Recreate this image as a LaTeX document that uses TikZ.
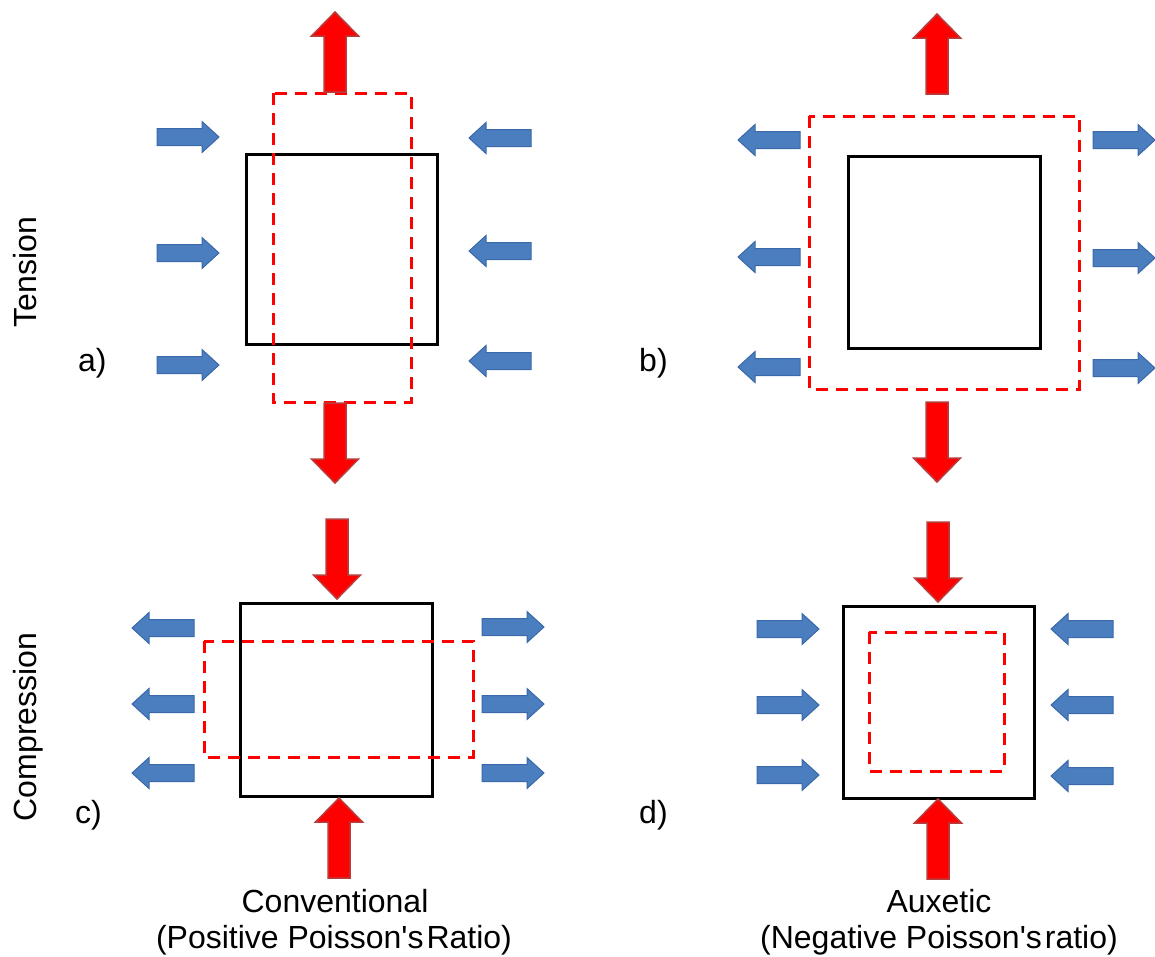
\documentclass[tikz,border=0pt]{standalone}
\usepackage{fontspec}
\setmainfont{Liberation Sans}
\definecolor{arrblue}{RGB}{74,126,190}
\definecolor{arrblueedge}{RGB}{58,104,168}
\definecolor{arrrededge}{RGB}{185,60,60}
\tikzset{
  txt/.style={font=\fontsize{32}{38}\selectfont, inner sep=0pt},
  sq/.style={draw=black, line width=3pt},
  dsq/.style={draw=red, line width=3pt, dash pattern=on 12pt off 8pt},
  blue arr/.style={fill=arrblue, draw=arrblueedge, line width=1pt, line join=miter},
  red arr/.style={fill=red, draw=arrrededge, line width=1.5pt, line join=miter},
  pics/bluearrow/.style={code={\path[blue arr] (0,-8.5) -- (45,-8.5) -- (45,-15.5) -- (62,0) -- (45,15.5) -- (45,8.5) -- (0,8.5) -- cycle;}},
  pics/redarrow/.style={code={\path[red arr] (0,-11) -- (56,-11) -- (56,-23.5) -- (80,0) -- (56,23.5) -- (56,11) -- (0,11) -- cycle;}}
}
\begin{document}
\begin{tikzpicture}[x=1pt,y=-1pt]
\useasboundingbox (0,0) rectangle (1155,956);

% ---------- panel a ----------
\draw[sq] (246,154) rectangle (437,344);
\draw[dsq] (273,93) rectangle (411,402);
\pic[rotate=90] (aup) at (335,92) {redarrow};
\pic[rotate=270] (adn) at (335,403) {redarrow};
\foreach \y [count=\i] in {137,253,365} \pic (al\i) at (157,\y) {bluearrow};
\foreach \y [count=\i] in {138,251,361} \pic[rotate=180] (ar\i) at (531,\y) {bluearrow};

% ---------- panel b ----------
\draw[sq] (848,156) rectangle (1040,348);
\draw[dsq] (809,116) rectangle (1079,389);
\pic[rotate=90] (bup) at (937,94) {redarrow};
\pic[rotate=270] (bdn) at (937,402) {redarrow};
\foreach \y [count=\i] in {140,257,367} \pic[rotate=180] (bl\i) at (800,\y) {bluearrow};
\foreach \y [count=\i] in {140,258,368} \pic (br\i) at (1093,\y) {bluearrow};

% ---------- panel c ----------
\draw[sq] (240,603) rectangle (432,796);
\draw[dsq] (204,641) rectangle (473,757);
\pic[rotate=270] (cdn) at (337,519) {redarrow};
\pic[rotate=90] (cup) at (339,878) {redarrow};
\foreach \y [count=\i] in {628,704,773} \pic[rotate=180] (cl\i) at (194,\y) {bluearrow};
\foreach \y [count=\i] in {627,704,773} \pic (cr\i) at (482,\y) {bluearrow};

% ---------- panel d ----------
\draw[sq] (843,606) rectangle (1034,798);
\draw[dsq] (869,632) rectangle (1004,771);
\pic[rotate=270] (ddn) at (938,522) {redarrow};
\pic[rotate=90] (dup) at (938,879) {redarrow};
\foreach \y [count=\i] in {629,705,775} \pic (dl\i) at (757,\y) {bluearrow};
\foreach \y [count=\i] in {629,705,776} \pic[rotate=180] (dr\i) at (1113,\y) {bluearrow};

% ---------- labels ----------
\node[txt, rotate=90, anchor=base] (tension) at (36,272) {Tension};
\node[txt, rotate=90, anchor=base] (compression) at (36,727) {Compression};
\node[txt, anchor=base west] (la) at (78,371) {a)};
\node[txt, anchor=base west] (lb) at (639,371) {b)};
\node[txt, anchor=base west] (lc) at (75,823) {c)};
\node[txt, anchor=base west] (ld) at (639,823) {d)};
\node[txt, anchor=base] (conv) at (335,912) {Conventional};
\node[txt, anchor=base] (convr) at (334,948) {(Positive Poisson\textquotesingle s\hspace{3pt}Ratio)};
\node[txt, anchor=base] (aux) at (939,912) {Auxetic};
\node[txt, anchor=base] (auxr) at (939,948) {(Negative Poisson\textquotesingle s\hspace{3pt}ratio)};
\end{tikzpicture}
\end{document}
